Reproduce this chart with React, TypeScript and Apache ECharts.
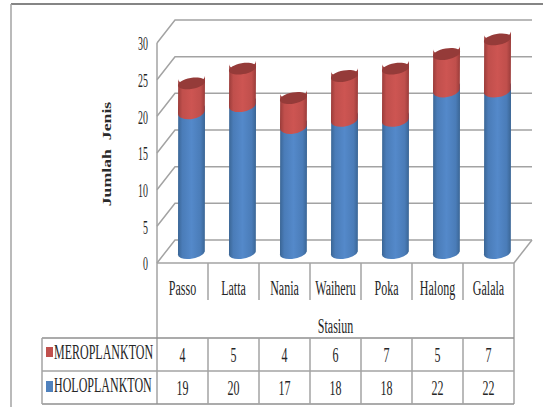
import React, { useEffect, useRef } from "react";
import * as echarts from "echarts";

const stations = ["Passo", "Latta", "Nania", "Waiheru", "Poka", "Halong", "Galala"];
const meroplankton = [4, 5, 4, 6, 7, 5, 7];
const holoplankton = [19, 20, 17, 18, 18, 22, 22];
const yTicks = [0, 5, 10, 15, 20, 25, 30];
const meroName = "MEROPLANKTON";
const holoName = "HOLOPLANKTON";
const yTitle = "Jumlah  Jenis";
const xTitle = "Stasiun";

// Front plane of the pseudo-3D box and the depth offset of its back wall.
const PLOT = { left: 157, top: 43, width: 357, height: 220 };
const DEPTH = { x: 18, y: -23 };
// Cylinders stand midway between the front plane and the back wall.
const BAR_SHIFT = { x: 9, y: -11 };
const BAR_RATIO = 0.53;
const TILT_DEG = -10;
const ELLIPSE_RY = 5.5;

const GRID_COLOR = "#a3a3a3";
const TEXT_COLOR = "#262626";
const SERIF = '"Liberation Serif", "Times New Roman", serif';

const blueFill = new echarts.graphic.LinearGradient(0, 0, 1, 0, [
  { offset: 0, color: "#3a6594" },
  { offset: 0.16, color: "#4a7cb8" },
  { offset: 0.5, color: "#5489ca" },
  { offset: 0.84, color: "#4a7cb8" },
  { offset: 1, color: "#3a6594" },
]);
const redFill = new echarts.graphic.LinearGradient(0, 0, 1, 0, [
  { offset: 0, color: "#9a3c3a" },
  { offset: 0.16, color: "#c04f4c" },
  { offset: 0.5, color: "#cd5552" },
  { offset: 0.84, color: "#c04f4c" },
  { offset: 1, color: "#9a3c3a" },
]);

// Cylinder segment between two stacked values; the top cap is added when asked for.
function cylinderItem(fill: any, capColor: string | null) {
  return (params: any, api: any) => {
    const low = api.coord([api.value(0), api.value(1)]);
    const high = api.coord([api.value(0), api.value(2)]);
    const rx = (api.size([1, 0])[0] * BAR_RATIO) / 2;
    const cx = low[0] + BAR_SHIFT.x;
    const yLow = low[1] + BAR_SHIFT.y;
    const yHigh = high[1] + BAR_SHIFT.y;
    const slope = rx * Math.tan((-TILT_DEG * Math.PI) / 180);
    const ellipseRx = rx / Math.cos((TILT_DEG * Math.PI) / 180);
    const arc = `${ellipseRx} ${ELLIPSE_RY} ${TILT_DEG} 0`;
    const d =
      `M ${cx - rx} ${yHigh + slope} ` +
      `A ${arc} 0 ${cx + rx} ${yHigh - slope} ` +
      `L ${cx + rx} ${yLow - slope} ` +
      `A ${arc} 1 ${cx - rx} ${yLow + slope} Z`;
    const children: any[] = [
      {
        type: "path",
        shape: {
          pathData: d,
          x: cx - rx,
          y: yHigh - slope - ELLIPSE_RY,
          width: rx * 2,
          height: yLow - yHigh + 2 * slope + 2 * ELLIPSE_RY,
          layout: "cover",
        },
        style: { fill },
      },
    ];
    if (capColor) {
      children.push({
        type: "ellipse",
        shape: { cx: 0, cy: 0, rx: ellipseRx, ry: ELLIPSE_RY },
        x: cx,
        y: yHigh,
        rotation: (-TILT_DEG * Math.PI) / 180,
        style: { fill: capColor },
      });
    }
    return { type: "group", children };
  };
}

// Gridlines running along the left wall and across the back wall, with their tick labels.
function renderWallTick(params: any, api: any) {
  const y = api.coord([0, api.value(1)])[1];
  const x0 = params.coordSys.x;
  const x1 = x0 + params.coordSys.width;
  return {
    type: "group",
    children: [
      {
        type: "polyline",
        shape: {
          points: [
            [x0, y],
            [x0 + DEPTH.x, y + DEPTH.y],
            [x1 + DEPTH.x, y + DEPTH.y],
          ],
        },
        style: { stroke: GRID_COLOR, lineWidth: 1.5, fill: "none" },
      },
      {
        type: "text",
        x: x0 - 9,
        y: y + 1,
        scaleX: 0.55,
        style: {
          text: String(api.value(1)),
          font: `18px ${SERIF}`,
          fill: TEXT_COLOR,
          align: "right",
          verticalAlign: "middle",
        },
      },
    ],
  };
}

function squeezedText(text: string, x: number, y: number, align = "center") {
  return {
    type: "text",
    x,
    y,
    scaleX: 0.6,
    style: { text, font: `20px ${SERIF}`, fill: TEXT_COLOR, align, verticalAlign: "middle" },
  };
}

function tableLine(x1: number, y1: number, x2: number, y2: number, stroke = GRID_COLOR, lineWidth = 1.5) {
  return { type: "line", shape: { x1, y1, x2, y2 }, style: { stroke, lineWidth } };
}

// Data table below the plot: station headers, legend keys and the value rows.
function buildTable() {
  const tableTop = PLOT.top + PLOT.height;
  const right = PLOT.left + PLOT.width;
  const headerEnd = 300;
  const row0 = 338;
  const row1 = 371;
  const row2 = 404;
  const keyLeft = 42;
  const col = PLOT.width / stations.length;
  const items: any[] = [
    tableLine(11, 4, 543, 4, "#858585", 2),
    tableLine(11, 4, 11, 407, GRID_COLOR, 1.5),
    tableLine(PLOT.left, tableTop, right, tableTop),
    tableLine(PLOT.left, PLOT.top, PLOT.left, row2),
    tableLine(right, tableTop, right, row2),
    tableLine(right, tableTop, right + DEPTH.x, tableTop + DEPTH.y),
    tableLine(keyLeft, row0, right, row0, "#8f8f8f", 1.5),
    tableLine(keyLeft, row1, right, row1),
    tableLine(keyLeft, row2, right, row2, "#8f8f8f", 1.5),
    tableLine(keyLeft, row0, keyLeft, row2),
    { type: "rect", shape: { x: 46, y: 347, width: 7, height: 10 }, style: { fill: "#c0504d" } },
    { type: "rect", shape: { x: 46, y: 381, width: 7, height: 11 }, style: { fill: "#4f81bd" } },
    squeezedText(meroName, 54, 352, "left"),
    squeezedText(holoName, 54, 385.5, "left"),
    squeezedText(xTitle, PLOT.left + PLOT.width / 2, 326),
    {
      type: "text",
      x: 107,
      y: 154,
      rotation: Math.PI / 2,
      scaleX: 1.48,
      style: {
        text: yTitle,
        font: `bold 12px ${SERIF}`,
        fill: "#2a2a2a",
        align: "center",
        verticalAlign: "middle",
      },
    },
  ];
  stations.forEach((name, i) => {
    const edge = PLOT.left + col * i;
    const mid = edge + col / 2;
    if (i > 0) {
      items.push(tableLine(edge, tableTop, edge, headerEnd));
      items.push(tableLine(edge, row0, edge, row2));
    }
    items.push(squeezedText(name, mid, 288));
    items.push(squeezedText(String(meroplankton[i]), mid, 355));
    items.push(squeezedText(String(holoplankton[i]), mid, 388));
  });
  return items;
}

export default function App() {
  const ref = useRef<HTMLDivElement>(null);

  useEffect(() => {
    document.body.style.margin = "0";
    const chart = echarts.init(ref.current!, null, { renderer: "svg" });
    chart.setOption({
      animation: false,
      backgroundColor: "#ffffff",
      grid: { ...PLOT, containLabel: false },
      xAxis: {
        type: "category",
        data: stations,
        axisLine: { show: false },
        axisTick: { show: false },
        axisLabel: { show: false },
      },
      yAxis: {
        type: "value",
        min: 0,
        max: 30,
        interval: 5,
        axisLine: { show: false },
        axisTick: { show: false },
        axisLabel: { show: false },
        splitLine: { show: false },
      },
      graphic: buildTable(),
      series: [
        {
          type: "custom",
          name: "ticks",
          silent: true,
          renderItem: renderWallTick,
          encode: { x: 0, y: 1 },
          data: yTicks.map((t) => [0, t]),
          z: 1,
        },
        {
          type: "custom",
          name: holoName,
          renderItem: cylinderItem(blueFill, null),
          encode: { x: 0, y: [1, 2] },
          data: stations.map((_, i) => [i, 0, holoplankton[i]]),
          z: 2,
        },
        {
          type: "custom",
          name: meroName,
          renderItem: cylinderItem(redFill, "#953b39"),
          encode: { x: 0, y: [1, 2] },
          data: stations.map((_, i) => [i, holoplankton[i], holoplankton[i] + meroplankton[i]]),
          z: 3,
        },
      ],
    });
    return () => chart.dispose();
  }, []);

  return <div ref={ref} style={{ width: 543, height: 407 }} />;
}
